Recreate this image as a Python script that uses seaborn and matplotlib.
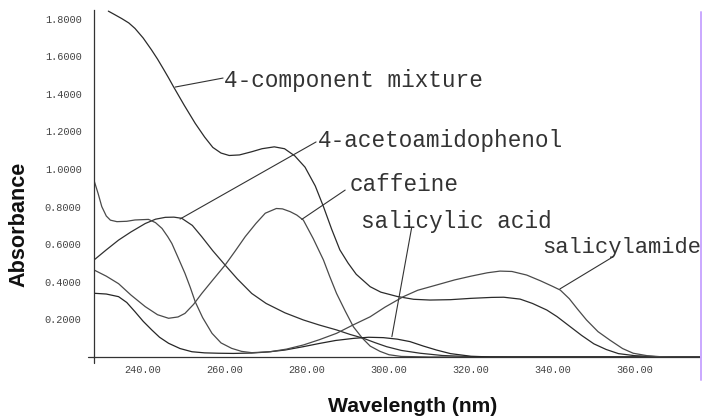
import numpy as np
import pandas as pd
import matplotlib
matplotlib.use("Agg")
import matplotlib.pyplot as plt
import seaborn as sns

# ---------------- data ----------------
wl_mix = [231.5, 233, 234.8, 236.5, 238, 240, 242, 243.5, 245, 246.2, 247.4, 250,
          252.7, 255, 257, 259, 261, 263.5, 266.5, 269, 272, 274.5, 277, 279.5, 282,
          284, 286, 288, 290, 292, 295.4, 298, 302, 306, 310, 315, 320, 325, 328, 332,
          335, 338.5, 341, 344, 347, 350, 353, 356, 360, 365, 370, 376]
abs_mix = [1.84, 1.822, 1.80, 1.777, 1.748, 1.697, 1.635, 1.585, 1.53, 1.485, 1.438,
           1.34, 1.243, 1.17, 1.115, 1.085, 1.072, 1.075, 1.092, 1.108, 1.118, 1.108,
           1.07, 1.01, 0.91, 0.80, 0.68, 0.57, 0.50, 0.44, 0.374, 0.345, 0.322, 0.307,
           0.303, 0.305, 0.312, 0.317, 0.318, 0.308, 0.285, 0.25, 0.215, 0.165, 0.115,
           0.07, 0.04, 0.018, 0.007, 0.002, 0.0, 0.0]

wl_acet = [228, 231, 234, 237, 240.5, 243, 245.4, 247.5, 249.4, 252, 254.3, 257, 260,
           263, 266.5, 270, 274.6, 279.1, 283, 287.2, 290.5, 293.7, 296.5, 299.4, 303,
           307.6, 313, 319.8, 330, 376]
abs_acet = [0.516, 0.57, 0.622, 0.665, 0.71, 0.733, 0.743, 0.744, 0.738, 0.70, 0.64,
            0.565, 0.489, 0.415, 0.338, 0.285, 0.235, 0.197, 0.17, 0.144, 0.12, 0.10,
            0.077, 0.055, 0.035, 0.02, 0.008, 0.002, 0.0, 0.0]

wl_caff = [228, 231, 234, 237, 240.5, 243.5, 246.2, 248.5, 250.2, 252.3, 254.3, 257,
           260, 262.5, 264.9, 267.5, 269.8, 272.5, 274, 275.9, 277.5, 279.1, 281.5,
           284, 285.5, 287.2, 289.3, 291.3, 293.5, 295.4, 297.8, 300, 303, 310, 376]
abs_caff = [0.463, 0.43, 0.39, 0.33, 0.268, 0.225, 0.206, 0.213, 0.232, 0.28, 0.338,
            0.41, 0.489, 0.565, 0.64, 0.71, 0.765, 0.79, 0.788, 0.773, 0.755, 0.728,
            0.63, 0.516, 0.43, 0.338, 0.245, 0.161, 0.10, 0.058, 0.03, 0.012, 0.003,
            0.0, 0.0]

wl_sacid = [228, 231, 234, 236, 238, 240, 242.1, 244, 246.2, 249, 251.9, 255, 258.4,
            262, 266.5, 270.5, 274.6, 279.1, 283, 287, 291.3, 295, 298.6, 302, 305.1,
            308.4, 311.6, 315, 320, 325, 376]
abs_sacid = [0.339, 0.335, 0.321, 0.29, 0.241, 0.19, 0.144, 0.105, 0.073, 0.045,
             0.028, 0.022, 0.02, 0.019, 0.021, 0.027, 0.037, 0.055, 0.072, 0.088,
             0.099, 0.105, 0.103, 0.095, 0.082, 0.058, 0.037, 0.018, 0.004, 0.0, 0.0]

wl_samide = [228, 229, 229.9, 231, 232, 233.6, 236, 238, 241.3, 243, 244.6, 246, 247,
             248.5, 250.2, 251.5, 252.7, 254.5, 256.8, 259, 261.6, 264, 266.5, 271,
             275, 279.1, 283, 287.2, 291, 295.4, 299, 303.5, 307, 311.6, 316, 320, 324,
             327.1, 330, 333.6, 337, 340, 341.8, 344, 346, 348.2, 351, 353.9, 357,
             359.6, 363, 366, 370, 376]
abs_samide = [0.94, 0.87, 0.80, 0.75, 0.728, 0.72, 0.722, 0.729, 0.732, 0.715, 0.684,
              0.64, 0.604, 0.53, 0.445, 0.37, 0.294, 0.21, 0.126, 0.075, 0.046, 0.03,
              0.023, 0.028, 0.042, 0.064, 0.092, 0.126, 0.168, 0.214, 0.265, 0.321,
              0.355, 0.383, 0.41, 0.43, 0.448, 0.457, 0.455, 0.436, 0.405, 0.375,
              0.356, 0.31, 0.255, 0.197, 0.135, 0.09, 0.045, 0.02, 0.007, 0.002, 0.0,
              0.0]

series_names = ["4-component mixture", "4-acetoamidophenol", "caffeine",
                "salicylic acid", "salicylamide"]
x_ticks = [240, 260, 280, 300, 320, 340, 360]
x_tick_labels = ["240.00", "260.00", "280.00", "300.00", "320.00", "340.00", "360.00"]
y_ticks = [0.2, 0.4, 0.6, 0.8, 1.0, 1.2, 1.4, 1.6, 1.8]
y_tick_labels = ["0.2000", "0.4000", "0.6000", "0.8000", "1.0000", "1.2000",
                 "1.4000", "1.6000", "1.8000"]

frames = []
for name, wl, ab in zip(series_names,
                        [wl_mix, wl_acet, wl_caff, wl_sacid, wl_samide],
                        [abs_mix, abs_acet, abs_caff, abs_sacid, abs_samide]):
    frames.append(pd.DataFrame({"wl": wl, "abs": ab, "series": name}))
df = pd.concat(frames, ignore_index=True)

# ---------------- figure ----------------
sns.set_style("white")
plt.rcParams["font.family"] = ["Liberation Mono", "DejaVu Sans Mono"]

fig = plt.figure(figsize=(7.07, 4.17), dpi=100)
ax = fig.add_axes([94 / 707, 60 / 417, 606 / 707, 347 / 417])

palette = {"4-component mixture": "#2b2b2b", "4-acetoamidophenol": "#303030",
           "caffeine": "#4a4a4a", "salicylic acid": "#262626",
           "salicylamide": "#4a4a4a"}
sns.lineplot(data=df, x="wl", y="abs", hue="series", palette=palette,
             estimator=None, sort=False, legend=False, linewidth=0.9, ax=ax)
for ln in ax.get_lines():
    ln.set_solid_joinstyle("round")

ax.set_xlim(228, 375.9)
ax.set_ylim(0, 1.846)
ax.set_xticks(x_ticks)
ax.set_xticklabels(x_tick_labels)
ax.set_yticks(y_ticks)
ax.set_yticklabels(y_tick_labels)
ax.set_xlabel("")
ax.set_ylabel("")
for s in ["top", "right"]:
    ax.spines[s].set_visible(False)
for s in ["left", "bottom"]:
    ax.spines[s].set_color("#333333")
    ax.spines[s].set_linewidth(0.9)
ax.tick_params(axis="both", direction="inout", length=10, width=0.9,
               colors="#333333", labelsize=7.4, labelcolor="#444444")
ax.tick_params(axis="y", pad=4.0)
ax.tick_params(axis="x", pad=0.5)
# small axis overhangs at the origin
ax.plot([-0.0099, 0], [0, 0], transform=ax.transAxes, clip_on=False,
        color="#333333", lw=0.9)
ax.plot([0, 0], [-0.0173, 0], transform=ax.transAxes, clip_on=False,
        color="#333333", lw=0.9)

# annotations (plotter style labels with leader lines)
lab_kw = dict(fontsize=16.3, color="#333333", ha="left", va="center",
              family=["Liberation Mono", "DejaVu Sans Mono"])
leader_kw = dict(color="#333333", lw=0.8, clip_on=False)

ax.text(259.8, 1.473, "4-component mixture", **lab_kw)
ax.plot([247.8, 259.5], [1.436, 1.484], **leader_kw)

ax.text(282.7, 1.154, "4-acetoamidophenol", **lab_kw)
ax.plot([249.0, 282.2], [0.734, 1.144], **leader_kw)

ax.text(290.5, 0.92, "caffeine", **lab_kw)
ax.plot([278.7, 289.3], [0.732, 0.888], **leader_kw)

ax.text(293.2, 0.723, "salicylic acid", **lab_kw)
ax.plot([300.7, 305.5], [0.108, 0.685], **leader_kw)

samide_kw = dict(lab_kw)
samide_kw["fontsize"] = 15.9
ax.text(337.5, 0.585, "salicylamide", **samide_kw)
ax.plot([341.7, 354.6], [0.362, 0.532], **leader_kw)

# axis titles
fig.text(413 / 707, 1 - 406 / 417, "Wavelength (nm)", ha="center", va="center",
         fontsize=15.2, fontweight="bold", family=["Liberation Sans", "DejaVu Sans"],
         color="#111111")
fig.text(19 / 707, 1 - 224 / 417, "Absorbance", ha="center", va="center",
         rotation=90, fontsize=15.6, fontweight="bold",
         family=["Liberation Sans", "DejaVu Sans"], color="#111111")

# lavender border line at the right edge
fig.add_artist(plt.Line2D([700.7 / 707, 700.7 / 707], [37 / 417, 405 / 417],
                          transform=fig.transFigure, color="#caa8ff", lw=1.4))

fig.savefig("out.png", dpi=100, facecolor="white")
